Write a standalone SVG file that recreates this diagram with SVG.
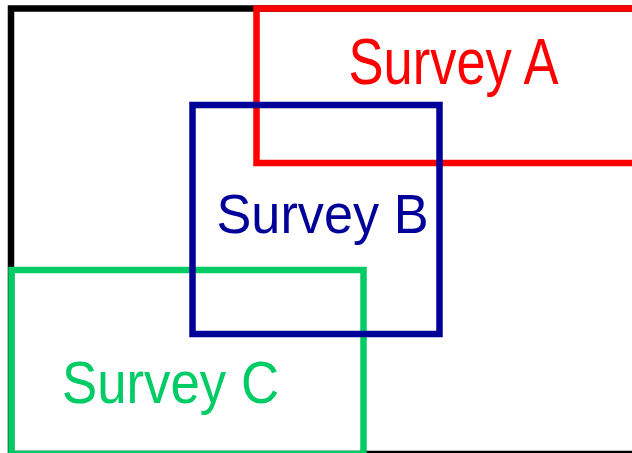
<svg xmlns="http://www.w3.org/2000/svg" width="632" height="453" viewBox="0 0 632 453">
  <style>
    .frame { fill: none; stroke-width: 6.5; }
    .label { font-family: "Liberation Sans", Arial, sans-serif; }
  </style>
  <rect width="632" height="453" fill="#ffffff"/>
  <g id="connectors"/>
  <g id="universe">
    <rect class="frame" x="11" y="8.5" width="700" height="445.5" stroke="#000000"/>
  </g>
  <g id="survey-a">
    <rect class="frame" x="256.5" y="8.5" width="500" height="154.5" stroke="#ff0000"/>
    <text class="label" x="348.5" y="84" font-size="65" textLength="210" lengthAdjust="spacingAndGlyphs" fill="#ff0000">Survey A</text>
  </g>
  <g id="survey-c">
    <rect class="frame" x="11.5" y="270" width="352" height="184" stroke="#00cc66"/>
    <text class="label" x="62" y="403" font-size="60" textLength="217" lengthAdjust="spacingAndGlyphs" fill="#00cc66">Survey C</text>
  </g>
  <g id="survey-b">
    <rect class="frame" x="192.5" y="105" width="247" height="229" stroke="#000099"/>
    <text class="label" x="216.5" y="233" font-size="56" textLength="212" lengthAdjust="spacingAndGlyphs" fill="#000099">Survey B</text>
  </g>
</svg>
